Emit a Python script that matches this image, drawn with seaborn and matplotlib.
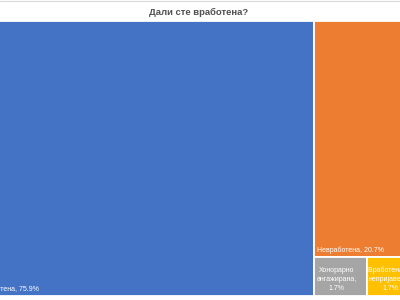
import matplotlib
matplotlib.use("Agg")
import matplotlib.pyplot as plt
import seaborn as sns

categories = ["Вработена", "Невработена", "Хонорарно ангажирана", "Вработена но непријавена"]
labels = ["Вработена, 75.9%", "Невработена, 20.7%", "Хонорарно\nангажирана,\n1.7%", "Вработена но\nнепријавена,\n1.7%"]
values = [75.9, 20.7, 1.7, 1.7]
colors = ["#4472C4", "#ED7D31", "#A5A5A5", "#FFC000"]
title = "Дали сте вработена?"

sns.set_theme(style="white")
plt.rcParams["font.family"] = ["Liberation Sans", "DejaVu Sans"]

fig = plt.figure(figsize=(4, 3), dpi=100)
fig.patch.set_facecolor("white")
ax = fig.add_axes([-23 / 400, 1 - 296 / 300, 444 / 400, 275 / 300])
ax.set_xlim(0, 1)
ax.set_ylim(0, 1)
ax.axis("off")

total = sum(values)
# treemap layout computed from values
w0 = values[0] / total
rest = total - values[0]
rects = []
rects.append((0, 0, w0, 1))
wr = 1 - w0
h1 = values[1] / rest
rects.append((w0, 1 - h1, wr, h1))
small = values[2] + values[3]
wg = wr * values[2] / small
rects.append((w0, 0, wg, 1 - h1))
rects.append((w0 + wg, 0, wr - wg, 1 - h1))

for (x, y, w, h), c in zip(rects, colors):
    ax.bar(x, h, width=w, bottom=y, align="edge", color=c, edgecolor="white", linewidth=1.3)

# labels
for i, ((x, y, w, h), lab) in enumerate(zip(rects, labels)):
    if i < 2:
        ax.annotate(lab, (x, y), xytext=(2.5, 2.5), textcoords="offset points",
                    ha="left", va="bottom", color="white", fontsize=5)
    else:
        ax.annotate(lab, (x + w / 2, y + h / 2), xytext=(-3, -2), textcoords="offset points",
                    ha="center", va="center", color="white", fontsize=5, linespacing=1.35)

fig.text(0.4975, 1 - 12 / 300, title, ha="center", va="center", fontsize=6.8,
         fontweight="bold", color="#505050")
fig.add_artist(plt.Line2D([0, 1], [0.998, 0.998], color="#D9D9D9", linewidth=0.8))

fig.savefig("out.png", dpi=100, facecolor="white")
